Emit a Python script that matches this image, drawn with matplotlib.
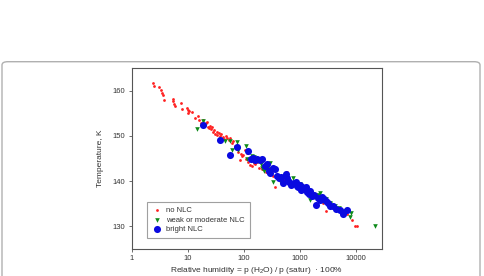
import matplotlib
matplotlib.use("Agg")
import matplotlib.pyplot as plt
from matplotlib.patches import FancyBboxPatch

# === DATA ===
# no NLC: relative humidity (%), temperature (K)
no_nlc_rh = [2.4, 2.5, 3.1, 3.4, 3.5, 3.6, 3.8, 5.4, 5.5, 5.8, 6.0, 7.6, 7.8, 9.6, 10.0,
             10.2, 10.5, 11.8, 13.5, 15.0, 16.0, 17.5, 19, 20, 21, 22, 23, 24, 25, 26, 27,
             28, 30, 31, 33, 34, 36, 38, 40, 42, 45, 48, 50, 55, 58, 62, 65, 70, 75, 80,
             86, 90, 95, 98, 105, 110, 115, 120, 125, 130, 139, 145, 150, 160, 175, 190,
             210, 230, 250, 280, 300, 330, 363, 400, 450, 520, 590, 600, 700, 800, 900,
             1000, 1100, 1200, 1300, 1500, 1700, 2000, 2300, 2600, 3000, 3300, 4000, 4600,
             5500, 7000, 8500, 9800, 10700]
no_nlc_t = [161.7, 161.0, 160.8, 160.2, 159.5, 159.0, 158.0, 158.2, 157.6, 157.1, 156.6,
            157.3, 155.9, 156.2, 155.8, 155.1, 155.5, 155.2, 154.0, 154.3, 153.4, 152.9,
            153.5, 152.3, 152.8, 153.0, 152.0, 151.8, 152.2, 151.5, 152.0, 150.8, 151.3,
            150.5, 150.9, 150.2, 150.6, 150.0, 150.4, 149.7, 149.2, 150.0, 149.5, 149.0,
            149.6, 148.5, 148.8, 147.8, 147.2, 146.5, 144.7, 146.0, 145.5, 145.8, 146.8,
            145.0, 146.2, 144.3, 145.2, 143.5, 143.4, 144.5, 144.0, 143.8, 144.2, 143.0,
            142.6, 143.5, 142.0, 142.5, 141.6, 141.2, 138.8, 141.0, 140.5, 140.2, 142.1,
            141.0, 139.8, 139.5, 138.8, 138.2, 137.8, 138.5, 137.5, 137.0, 136.6, 136.0,
            135.8, 135.2, 133.3, 134.8, 134.2, 133.6, 133.2, 132.8, 131.4, 130.1, 130.1]

# weak or moderate NLC
weak_rh = [14.5, 19, 46.5, 57, 61, 75, 80, 110, 113, 140, 155, 165, 170, 180, 200, 215,
           224, 230, 257, 260, 280, 295, 300, 340, 400, 450, 500, 550, 590, 650, 750, 850,
           1000, 1150, 1400, 1520, 1800, 2100, 2300, 2600, 3000, 3470, 3500, 4200, 5000,
           6500, 7940, 8200, 22300]
weak_t = [151.5, 153.2, 148.8, 148.9, 146.9, 148.6, 146.9, 147.8, 144.9, 145.6, 145.3,
          144.8, 144.7, 144.4, 143.8, 143.0, 143.2, 142.3, 142.5, 143.2, 142.6, 144.0,
          141.6, 139.9, 141.0, 140.0, 139.5, 140.8, 140.6, 140.0, 140.8, 139.6, 139.3,
          138.5, 137.8, 135.8, 136.5, 137.0, 137.3, 135.5, 136.0, 135.1, 135.0, 134.5,
          134.0, 133.5, 132.1, 133.0, 130.1]

# bright NLC
bright_rh = [18.6, 38, 58, 75, 118, 135, 148, 160, 175, 195, 215, 240, 260, 280, 300, 330,
             360, 400, 430, 470, 510, 560, 600, 640, 700, 780, 850, 900, 950, 1000, 1050,
             1100, 1200, 1300, 1350, 1450, 1550, 1650, 1800, 1950, 2100, 2300, 2500, 2700,
             2900, 3200, 3500, 4000, 4500, 5200, 6000, 7000]
bright_t = [152.3, 149.1, 145.8, 147.5, 146.7, 145.0, 145.2, 144.6, 145.0, 144.6, 144.8,
            143.4, 143.8, 142.2, 141.8, 143.0, 142.6, 141.2, 140.8, 141.0, 139.6, 141.6,
            140.8, 139.8, 139.2, 139.5, 139.8, 139.0, 138.6, 139.2, 138.0, 138.6, 138.2,
            138.8, 137.6, 137.2, 137.8, 136.8, 137.0, 134.7, 136.2, 135.8, 136.4, 136.0,
            135.6, 135.2, 134.6, 134.4, 133.8, 133.6, 132.7, 133.6]

x_ticks = [1, 10, 100, 1000, 10000]
x_tick_labels = ["1", "10", "100", "1000", "10000"]
y_ticks = [130, 140, 150, 160]

# === STYLE ===
plt.rcParams["font.family"] = ["Liberation Sans", "DejaVu Sans"]
plt.rcParams["mathtext.default"] = "regular"
TXT = "#333333"
SPINE = "#555555"

fig = plt.figure(figsize=(4.84, 2.76), dpi=100)

# outer rounded frame (open at the bottom)
frame = FancyBboxPatch((2 / 484, -0.2), 478 / 484, 0.2 + (276 - 61.7) / 276,
                       boxstyle="round,pad=0,rounding_size=0.012",
                       transform=fig.transFigure, facecolor="none",
                       edgecolor="#b0b0b0", linewidth=1.0, zorder=-1)
fig.patches.append(frame)

ax = fig.add_axes([131.7 / 484, 27 / 276, 250.3 / 484, 181 / 276])
ax.set_facecolor("white")

ax.scatter(no_nlc_rh, no_nlc_t, s=4, marker="o", color="#ff2020", linewidths=0,
           label="no NLC", zorder=3)
ax.scatter(weak_rh, weak_t, s=11, marker="v", color="#0e8a1a", linewidths=0,
           label="weak or moderate NLC", zorder=4)
ax.scatter(bright_rh, bright_t, s=26, marker="o", color="#0a0ae0", linewidths=0,
           label="bright NLC", zorder=5)

ax.set_xscale("log")
ax.set_xlim(1, 29500)
ax.set_ylim(125, 165)
ax.set_xticks(x_ticks)
ax.set_xticklabels(x_tick_labels)
ax.minorticks_off()
ax.set_yticks(y_ticks)
ax.tick_params(direction="out", length=2, width=0.6, color=SPINE, labelsize=5.5,
               labelcolor=TXT, pad=2.5)
for sp in ax.spines.values():
    sp.set_color(SPINE)
    sp.set_linewidth(0.8)

ax.set_xlabel("Relative humidity = p (H$_2$O) / p (satur)  · 100%", fontsize=6,
              color=TXT, labelpad=2)
ax.set_ylabel("Temperature, K", fontsize=6, color=TXT, labelpad=6)

leg = ax.legend(loc="lower left", bbox_to_anchor=(0.06, 0.059), fontsize=5.5,
                frameon=True, fancybox=False, borderpad=0.7, labelspacing=0.25,
                handletextpad=0.5, handlelength=1.3, borderaxespad=0,
                scatterpoints=1, labelcolor=TXT)
leg.get_frame().set_edgecolor("#888888")
leg.get_frame().set_linewidth(0.8)

fig.savefig("out.png", dpi=100, facecolor="white")
